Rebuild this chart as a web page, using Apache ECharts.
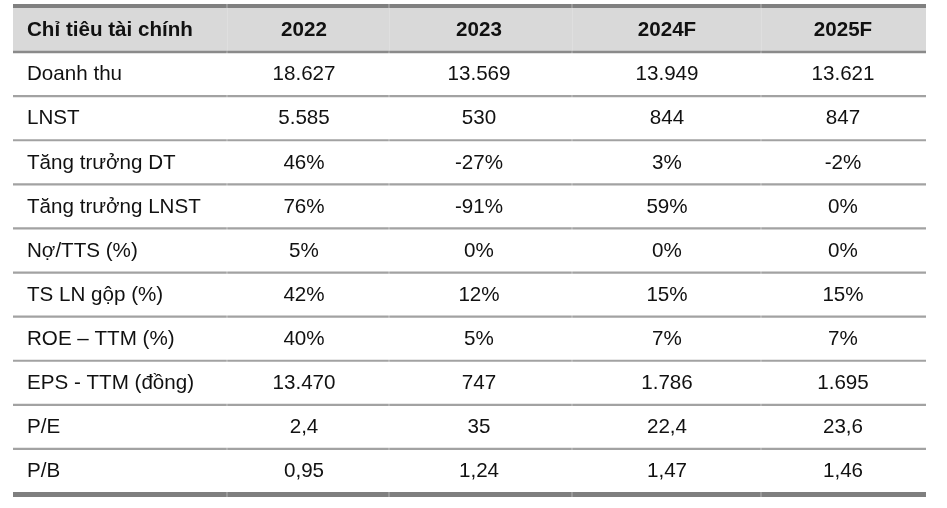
<!DOCTYPE html>
<html><head><meta charset="utf-8">
<script src="https://cdn.jsdelivr.net/npm/echarts@6/dist/echarts.min.js"></script>
<style>html,body{margin:0;padding:0;background:#fff}#c{width:947px;height:508px}</style>
</head><body><div id="c"></div>
<script>
// ---- data ----
const headers = ['Chỉ tiêu tài chính', '2022', '2023', '2024F', '2025F'];
const metrics = ['Doanh thu', 'LNST', 'Tăng trưởng DT', 'Tăng trưởng LNST', 'Nợ/TTS (%)', 'TS LN gộp (%)', 'ROE – TTM (%)', 'EPS - TTM (đồng)', 'P/E', 'P/B'];
const v2022 = ['18.627', '5.585', '46%', '76%', '5%', '42%', '40%', '13.470', '2,4', '0,95'];
const v2023 = ['13.569', '530', '-27%', '-91%', '0%', '12%', '5%', '747', '35', '1,24'];
const v2024F = ['13.949', '844', '3%', '59%', '0%', '15%', '7%', '1.786', '22,4', '1,47'];
const v2025F = ['13.621', '847', '-2%', '0%', '0%', '15%', '7%', '1.695', '23,6', '1,46'];

// ---- layout (style only) ----
const rowCats = [headers[0]].concat(metrics);
const valueCols = [v2022, v2023, v2024F, v2025F];
const colEdges = [0, 214, 376, 559, 748, 913];   // in x-axis units
const colCenters = [291, 466, 654, 830];
const FONT = "'Liberation Sans', Arial, Helvetica, sans-serif";
const SIZE = 20.6;

function renderRow(params, api) {
  const i = api.value(0);
  const cs = params.coordSys;
  const c = api.coord([0, i]);
  const h = api.size([0, 1])[1];
  const top = c[1] - h / 2, bottom = c[1] + h / 2;
  const left = cs.x;
  const kids = [];
  const isHeader = i === 0;
  if (isHeader) {
    kids.push({ type: 'rect', shape: { x: left, y: top, width: cs.width, height: h }, style: { fill: '#d9d9d9' } });
    for (let k = 1; k < colEdges.length - 1; k++) {
      const xb = api.coord([colEdges[k], i])[0];
      kids.push({ type: 'rect', shape: { x: xb, y: top, width: 1, height: h }, style: { fill: '#dfdfdf' } });
    }
  }
  function segs(y, w, color) {
    for (let k = 0; k < colEdges.length - 1; k++) {
      const x1 = api.coord([colEdges[k], i])[0] + (k === 0 ? 0 : 0.2);
      const x2 = api.coord([colEdges[k + 1], i])[0] - (k === colEdges.length - 2 ? 0 : 0.2);
      kids.push({ type: 'rect', shape: { x: x1, y: y - w / 2, width: x2 - x1, height: w }, style: { fill: color } });
    }
  }
  if (isHeader) segs(top - 2, 4, '#808080');
  if (i === rowCats.length - 1) segs(bottom + 1.5, 5, '#7f7f7f');
  else segs(bottom, isHeader ? 2.5 : 2.2, isHeader ? '#8a8a8a' : '#a2a2a2');

  const font = (isHeader ? 'bold ' : '') + SIZE + 'px ' + FONT;
  kids.push({ type: 'text', style: { text: rowCats[i], x: left + 14, y: c[1] + 0.5, align: 'left', verticalAlign: 'middle', font: font, fill: '#111' } });
  for (let j = 0; j < 4; j++) {
    const t = isHeader ? headers[j + 1] : valueCols[j][i - 1];
    const x = api.coord([colCenters[j], i])[0];
    kids.push({ type: 'text', style: { text: t, x: x, y: c[1] + 0.5, align: 'center', verticalAlign: 'middle', font: font, fill: '#111' } });
  }
  return { type: 'group', children: kids };
}

const chart = echarts.init(document.getElementById('c'), null, { renderer: 'canvas' });
chart.setOption({
  animation: false,
  backgroundColor: '#ffffff',
  grid: { left: 13, right: 21, top: 8, bottom: 15 },
  xAxis: { type: 'value', min: 0, max: 913, show: false },
  yAxis: { type: 'category', data: rowCats, inverse: true, show: false },
  series: [{
    type: 'custom',
    renderItem: renderRow,
    data: rowCats.map((_, i) => [i]),
    encode: { y: 0 },
    clip: false
  }]
});
</script>
</body></html>
